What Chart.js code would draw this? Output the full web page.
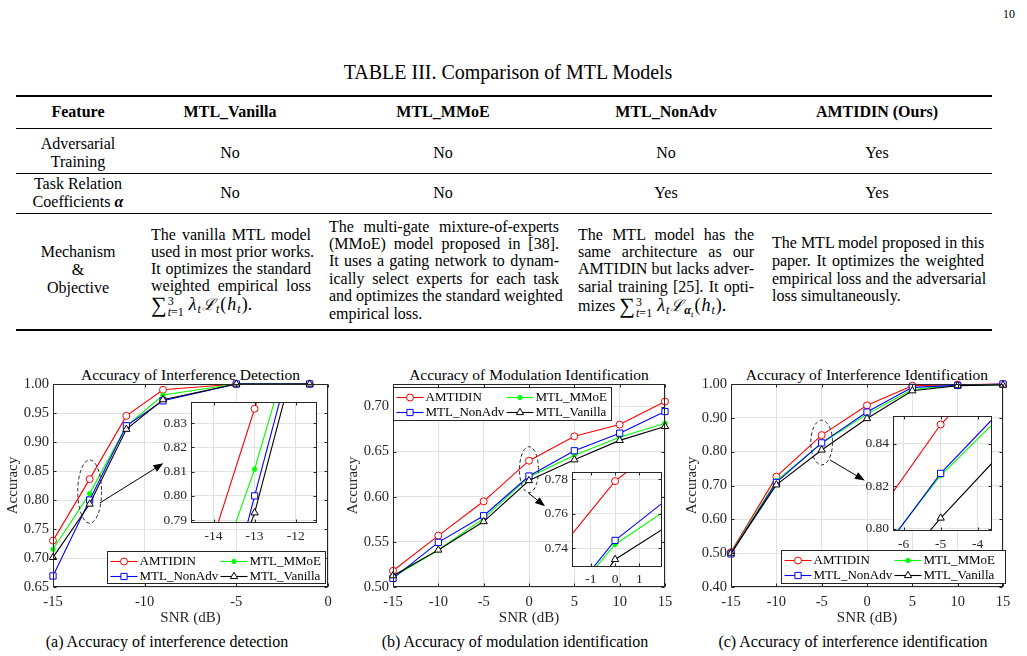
<!DOCTYPE html>
<html><head><meta charset="utf-8">
<script src="https://cdn.jsdelivr.net/npm/chart.js@4.4.1/dist/chart.umd.min.js"></script>
<style>
html,body{margin:0;padding:0;background:#fff}
body{width:1027px;height:656px;overflow:hidden;position:relative;font-family:"Liberation Serif","Times New Roman",serif;color:#000}
.c{position:absolute;transform:translate(-50%,-50%);white-space:nowrap;line-height:1.1}
.j,.l{position:absolute;height:18px;line-height:18px;white-space:nowrap;font-size:16px}
.j{text-align:justify;text-align-last:justify}
.rule{position:absolute;left:16px;width:976px;background:#000}
.sum{font-size:22px;vertical-align:-2px}
.lim{display:inline-block;vertical-align:-6px;font-size:12px;line-height:11px;margin-left:1px;margin-right:5px}
.lim span{display:block}
.m{font-size:18px;font-style:italic;margin-right:1px}
.cal{font-family:"DejaVu Serif","Liberation Serif",serif;font-size:16px;font-style:italic;margin-left:1px;margin-right:1px}
.p{font-size:18px;margin:0 1px}
sub{font-size:12px;vertical-align:-3px;line-height:0}
.cv{position:absolute;display:block}
.h{font-weight:bold;font-size:16px}
.t{font-size:16px}
</style></head><body>

<div class="c" style="left:1009px;top:15px;font-size:12px">10</div>
<div class="c" style="left:508px;top:72px;font-size:20px">TABLE III. Comparison of MTL Models</div>

<div class="rule" style="top:95px;height:1.6px"></div>
<div class="rule" style="top:128px;height:1px"></div>
<div class="rule" style="top:173px;height:1px"></div>
<div class="rule" style="top:213px;height:1px"></div>
<div class="rule" style="top:329px;height:1.6px"></div>

<div class="c h" style="left:78px;top:112px">Feature</div>
<div class="c h" style="left:230px;top:112px">MTL_Vanilla</div>
<div class="c h" style="left:443px;top:112px">MTL_MMoE</div>
<div class="c h" style="left:666px;top:112px">MTL_NonAdv</div>
<div class="c h" style="left:877px;top:112px">AMTIDIN (Ours)</div>

<div class="c t" style="left:78px;top:144px">Adversarial</div>
<div class="c t" style="left:78px;top:162px">Training</div>
<div class="c t" style="left:230px;top:153px">No</div>
<div class="c t" style="left:443px;top:153px">No</div>
<div class="c t" style="left:666px;top:153px">No</div>
<div class="c t" style="left:877px;top:153px">Yes</div>

<div class="c t" style="left:78px;top:184px">Task Relation</div>
<div class="c t" style="left:78px;top:202px">Coefficients <b><i>α</i></b></div>
<div class="c t" style="left:230px;top:193px">No</div>
<div class="c t" style="left:443px;top:193px">No</div>
<div class="c t" style="left:666px;top:193px">Yes</div>
<div class="c t" style="left:877px;top:193px">Yes</div>

<div class="c t" style="left:78px;top:252px">Mechanism</div>
<div class="c t" style="left:78px;top:270px">&amp;</div>
<div class="c t" style="left:78px;top:288px">Objective</div>

<div class="j" style="left:151px;width:160px;top:226px">The vanilla MTL model</div>
<div class="j" style="left:151px;width:160px;top:243px">used in most prior works.</div>
<div class="j" style="left:151px;width:160px;top:260px">It optimizes the standard</div>
<div class="j" style="left:151px;width:160px;top:277px">weighted empirical loss</div>
<div class="l" style="left:151px;top:295px"><span class="sum">∑</span><span class="lim"><span>3</span><span><i>t</i>=1</span></span><span class="m">λ</span><sub><i>t</i></sub><span class="cal">ℒ</span><sub><i>t</i></sub><span class="p">(</span><span class="m">h</span><sub><i>t</i></sub><span class="p">).</span></div>

<div class="j" style="left:329px;width:230px;top:218px">The multi-gate mixture-of-experts</div>
<div class="j" style="left:329px;width:230px;top:235px">(MMoE) model proposed in [38].</div>
<div class="j" style="left:329px;width:230px;top:252px">It uses a gating network to dynam-</div>
<div class="j" style="left:329px;width:230px;top:270px">ically select experts for each task</div>
<div class="j" style="left:329px;width:230px;top:287px">and optimizes the standard weighted</div>
<div class="l" style="left:329px;top:305px">empirical loss.</div>

<div class="j" style="left:578px;width:176px;top:226px">The MTL model has the</div>
<div class="j" style="left:578px;width:176px;top:243px">same architecture as our</div>
<div class="j" style="left:578px;width:176px;top:260px">AMTIDIN but lacks adver-</div>
<div class="j" style="left:578px;width:176px;top:278px">sarial training [25]. It opti-</div>
<div class="l" style="left:578px;top:296px">mizes <span class="sum">∑</span><span class="lim"><span>3</span><span><i>t</i>=1</span></span><span class="m">λ</span><sub><i>t</i></sub><span class="cal">ℒ</span><sub><b><i>α</i></b><sub style="font-size:9px"><i>t</i></sub></sub><span class="p">(</span><span class="m">h</span><sub><i>t</i></sub><span class="p">).</span></div>

<div class="j" style="left:772px;width:212px;top:234px">The MTL model proposed in this</div>
<div class="j" style="left:772px;width:212px;top:252px">paper. It optimizes the weighted</div>
<div class="j" style="left:772px;width:212px;top:270px">empirical loss and the adversarial</div>
<div class="l" style="left:772px;top:287px">loss simultaneously.</div>

<div class="c" style="left:190.5px;top:375px;font-size:15.5px">Accuracy of Interference Detection</div>
<div class="c" style="left:529px;top:375px;font-size:15.5px">Accuracy of Modulation Identification</div>
<div class="c" style="left:867px;top:375px;font-size:15.5px">Accuracy of Interference Identification</div>

<div class="c" style="left:167px;top:642px;font-size:16px">(a) Accuracy of interference detection</div>
<div class="c" style="left:515px;top:642px;font-size:16px">(b) Accuracy of modulation identification</div>
<div class="c" style="left:853px;top:642px;font-size:16px">(c) Accuracy of interference identification</div>

<script>
// ================= DATA =================
const seriesNames = ['AMTIDIN', 'MTL_MMoE', 'MTL_NonAdv', 'MTL_Vanilla'];

// (a) interference detection
const snrA = [-15, -13, -11, -9, -5, -1];
const detAMTIDIN = [0.730, 0.836, 0.945, 0.990, 1.000, 1.000];
const detMMoE    = [0.715, 0.811, 0.927, 0.981, 1.000, 1.000];
const detNonAdv  = [0.669, 0.800, 0.928, 0.971, 1.000, 1.000];
const detVanilla = [0.701, 0.793, 0.922, 0.973, 1.000, 1.000];

// (b) modulation identification
const snrB = [-15, -10, -5, 0, 5, 10, 15];
const modAMTIDIN = [0.518, 0.557, 0.595, 0.640, 0.667, 0.680, 0.7055];
const modMMoE    = [0.511, 0.541, 0.576, 0.622, 0.646, 0.666, 0.6815];
const modNonAdv  = [0.5095, 0.5495, 0.579, 0.623, 0.651, 0.6705, 0.6945];
const modVanilla = [0.5125, 0.541, 0.5725, 0.618, 0.641, 0.6625, 0.678];

// (b) zoomed inset (values as drawn in the inset)
const snrInsetB = [-5, 0, 5];
const modInsetAMTIDIN = [0.6925, 0.779, 0.833];
const modInsetMMoE    = [0.6586, 0.7421, 0.7896];
const modInsetNonAdv  = [0.657, 0.7445, 0.800];
const modInsetVanilla = [0.638, 0.7334, 0.778];

// (c) interference identification
const snrC = [-15, -10, -5, 0, 5, 10, 15];
const idAMTIDIN = [0.503, 0.726, 0.849, 0.937, 0.995, 0.998, 1.000];
const idMMoE    = [0.500, 0.714, 0.825, 0.911, 0.984, 0.996, 0.998];
const idNonAdv  = [0.498, 0.709, 0.826, 0.917, 0.990, 0.996, 1.000];
const idVanilla = [0.500, 0.702, 0.805, 0.898, 0.980, 0.995, 0.997];

// tick values
const xTicksA = [-15, -10, -5, 0];
const yTicksA = [0.65, 0.70, 0.75, 0.80, 0.85, 0.90, 0.95, 1.00];
const xTicksB = [-15, -10, -5, 0, 5, 10, 15];
const yTicksB = [0.50, 0.55, 0.60, 0.65, 0.70];
const xTicksC = [-15, -10, -5, 0, 5, 10, 15];
const yTicksC = [0.40, 0.50, 0.60, 0.70, 0.80, 0.90, 1.00];
const xTicksInsetA = [-14, -13, -12];
const yTicksInsetA = [0.79, 0.80, 0.81, 0.82, 0.83];
const xTicksInsetB = [-1, 0, 1];
const yTicksInsetB = [0.74, 0.76, 0.78];
const xTicksInsetC = [-6, -5, -4];
const yTicksInsetC = [0.80, 0.82, 0.84];

// ================= STYLE =================
const FONT = '"Liberation Serif", "Times New Roman", serif';
const STY = [
  {color:'#ff0000', shape:'circle',   r:3.5, fill:'#ffffff'},
  {color:'#00ff00', shape:'circle',   r:2.2, fill:'#00ff00'},
  {color:'#0000ff', shape:'rect',     r:4.4, fill:'#ffffff'},
  {color:'#000000', shape:'triangle', r:4.2, fill:'#ffffff'}
];

function drawMarker(ctx, st, x, y) {
  ctx.save();
  ctx.lineWidth = 1; ctx.strokeStyle = st.color; ctx.fillStyle = st.fill;
  ctx.beginPath();
  if (st.shape === 'circle') ctx.arc(x, y, st.r, 0, Math.PI * 2);
  else if (st.shape === 'rect') { const s = st.r * Math.SQRT1_2; ctx.rect(x - s, y - s, 2 * s, 2 * s); }
  else {
    let a = 0;
    ctx.moveTo(x + Math.sin(a) * st.r, y - Math.cos(a) * st.r);
    a += 2 * Math.PI / 3; ctx.lineTo(x + Math.sin(a) * st.r, y - Math.cos(a) * st.r);
    a += 2 * Math.PI / 3; ctx.lineTo(x + Math.sin(a) * st.r, y - Math.cos(a) * st.r);
    ctx.closePath();
  }
  ctx.fill(); ctx.stroke(); ctx.restore();
}

function seg(ctx, x0, y0, x1, y1) { ctx.beginPath(); ctx.moveTo(x0, y0); ctx.lineTo(x1, y1); ctx.stroke(); }

const deco = {
  id: 'deco',
  beforeDraw(chart, args, o) {
    if (o.bg) {
      const {ctx, chartArea: c} = chart;
      ctx.save(); ctx.fillStyle = '#ffffff';
      ctx.fillRect(c.left, c.top, c.right - c.left, c.bottom - c.top); ctx.restore();
    }
  },
  afterDraw(chart, args, o) {
    const {ctx, chartArea: c, scales: {x, y}} = chart;
    ctx.save();
    const L = Math.round(c.left) + 0.5, R = Math.round(c.right) - 0.5;
    const T = Math.round(c.top) + 0.5, B = Math.round(c.bottom) - 0.5;
    ctx.strokeStyle = '#262626'; ctx.lineWidth = 1;
    ctx.strokeRect(L, T, R - L, B - T);
    const tl = o.tick || 3;
    x.ticks.forEach(t => { const p = Math.round(x.getPixelForValue(t.value)) + 0.5; seg(ctx, p, B, p, B - tl); seg(ctx, p, T, p, T + tl); });
    y.ticks.forEach(t => { const p = Math.round(y.getPixelForValue(t.value)) + 0.5; seg(ctx, L, p, L + tl, p); seg(ctx, R, p, R - tl, p); });

    if (o.ellipse) {
      const e = o.ellipse;
      const cx = x.getPixelForValue(e.cx), cy = y.getPixelForValue(e.cy);
      const rx = Math.abs(x.getPixelForValue(e.cx + e.rx) - cx), ry = Math.abs(y.getPixelForValue(e.cy + e.ry) - cy);
      ctx.save(); ctx.setLineDash([3.5, 2.5]); ctx.strokeStyle = '#222'; ctx.lineWidth = 1;
      ctx.beginPath(); ctx.ellipse(cx, cy, rx, ry, 0, 0, Math.PI * 2); ctx.stroke(); ctx.restore();
    }
    if (o.arrow) {
      const a = o.arrow;
      const x0 = x.getPixelForValue(a.x0), y0 = y.getPixelForValue(a.y0);
      const x1 = x.getPixelForValue(a.x1), y1 = y.getPixelForValue(a.y1);
      const ang = Math.atan2(y1 - y0, x1 - x0), hl = 10, hw = 3.8;
      const bx = x1 - Math.cos(ang) * hl, by = y1 - Math.sin(ang) * hl;
      ctx.strokeStyle = '#000'; ctx.fillStyle = '#000'; ctx.lineWidth = 1;
      seg(ctx, x0, y0, bx, by);
      ctx.beginPath(); ctx.moveTo(x1, y1);
      ctx.lineTo(bx + Math.sin(ang) * hw, by - Math.cos(ang) * hw);
      ctx.lineTo(bx - Math.sin(ang) * hw, by + Math.cos(ang) * hw);
      ctx.closePath(); ctx.fill();
    }
    if (o.legend) {
      const g = o.legend;
      let bx, by;
      if (g.anchor === 'br') { bx = c.right + g.dx - g.w; by = c.bottom + g.dy - g.h; }
      else { bx = c.left + g.dx; by = c.top + g.dy; }
      bx = Math.round(bx) + 0.5; by = Math.round(by) + 0.5;
      ctx.fillStyle = '#fff'; ctx.fillRect(bx, by, g.w, g.h);
      ctx.strokeStyle = '#262626'; ctx.lineWidth = 1; ctx.strokeRect(bx, by, g.w, g.h);
      ctx.font = '13px ' + FONT; ctx.textBaseline = 'middle'; ctx.textAlign = 'left';
      chart.data.datasets.forEach((ds, i) => {
        const col = i % 2, row = Math.floor(i / 2);
        const sx = bx + 3 + col * 110, sy = Math.round(by + 9 + row * 15.5) + 0.5;
        ctx.strokeStyle = STY[i].color; ctx.lineWidth = 1.1;
        seg(ctx, sx, sy, sx + 27, sy);
        drawMarker(ctx, STY[i], sx + 13.5, sy);
        ctx.fillStyle = '#000'; ctx.fillText(ds.label, sx + 29, sy + 0.5);
      });
    }
    ctx.restore();
  }
};

function build(p) {
  const cv = document.createElement('canvas');
  cv.className = 'cv'; cv.width = p.W; cv.height = p.H;
  cv.style.left = p.L + 'px'; cv.style.top = p.T + 'px';
  cv.style.width = p.W + 'px'; cv.style.height = p.H + 'px';
  document.body.appendChild(cv);
  const datasets = p.series.map((ys, i) => ({
    label: seriesNames[i],
    data: p.xs.map((xv, k) => ({x: xv, y: ys[k]})),
    order: 4 - i,
    borderColor: STY[i].color, backgroundColor: STY[i].fill,
    borderWidth: 1.1, tension: 0, fill: false,
    pointStyle: STY[i].shape, pointRadius: STY[i].r, pointHoverRadius: STY[i].r,
    pointBorderWidth: 1, pointBorderColor: STY[i].color, pointBackgroundColor: STY[i].fill,
    clip: p.inset ? 0 : false
  }));
  const tickFont = {family: FONT, size: p.fs};
  const gridCol = '#e2e2e2';
  return new Chart(cv, {
    type: 'line',
    data: {datasets},
    options: {
      responsive: false, animation: false, devicePixelRatio: 1, events: [],
      layout: {padding: {top: p.padTop, right: p.padRight, left: 0, bottom: 0}},
      plugins: {legend: {display: false}, tooltip: {enabled: false}, deco: p.deco},
      scales: {
        x: {
          type: 'linear', min: p.xr[0], max: p.xr[1],
          afterBuildTicks: s => { s.ticks = p.xt.map(v => ({value: v})); },
          afterFit: s => { s.height = p.xH; s.paddingLeft = 0; s.paddingRight = 0; },
          grid: {color: gridCol, lineWidth: 1, drawTicks: false}, border: {display: false},
          ticks: {autoSkip: false, maxRotation: 0, padding: p.xPad, color: '#262626', font: tickFont, callback: v => String(v)},
          title: p.xTitle ? {display: true, text: p.xTitle, color: '#262626', font: {family: FONT, size: 15}, padding: {top: 0, bottom: 0}} : {display: false}
        },
        y: {
          type: 'linear', min: p.yr[0], max: p.yr[1],
          afterBuildTicks: s => { s.ticks = p.yt.map(v => ({value: v})); },
          afterFit: s => { s.width = p.yW; s.paddingTop = 0; s.paddingBottom = 0; },
          grid: {color: gridCol, lineWidth: 1, drawTicks: false}, border: {display: false},
          ticks: {autoSkip: false, padding: p.yPad, color: '#262626', font: tickFont, callback: v => Number(v).toFixed(2)},
          title: p.yTitle ? {display: true, text: p.yTitle, color: '#262626', font: {family: FONT, size: 15}, padding: {top: p.yTitlePad, bottom: 0}} : {display: false}
        }
      }
    },
    plugins: [deco]
  });
}

// ---------- (a) ----------
build({L: 0, T: 364, W: 336, H: 263, padTop: 20, padRight: 8, yW: 53, xH: 40,
  xs: snrA, series: [detAMTIDIN, detMMoE, detNonAdv, detVanilla],
  xr: [-15, 0], yr: [0.65, 1.00], xt: xTicksA, yt: yTicksA, fs: 14.5, xPad: 6, yPad: 4,
  xTitle: 'SNR (dB)', yTitle: 'Accuracy', yTitlePad: 4.5,
  deco: {ellipse: {cx: -13, cy: 0.8145, rx: 0.65, ry: 0.0545},
         arrow: {x0: -12.44, y0: 0.795, x1: -8.98, y1: 0.8633},
         legend: {anchor: 'br', dx: -3, dy: -4, w: 218, h: 32}}});
build({L: 150, T: 396, W: 175, H: 150, padTop: 6, padRight: 8, yW: 41, xH: 23, inset: true,
  xs: snrA, series: [detAMTIDIN, detMMoE, detNonAdv, detVanilla],
  xr: [-14.55, -11.48], yr: [0.7888, 0.8388], xt: xTicksInsetA, yt: yTicksInsetA, fs: 13.5, xPad: 5, yPad: 4,
  deco: {bg: true}});

// ---------- (b) ----------
build({L: 340, T: 364, W: 335, H: 263, padTop: 20, padRight: 10, yW: 53, xH: 40,
  xs: snrB, series: [modAMTIDIN, modMMoE, modNonAdv, modVanilla],
  xr: [-15, 15], yr: [0.50, 0.725], xt: xTicksB, yt: yTicksB, fs: 14.5, xPad: 6, yPad: 4,
  xTitle: 'SNR (dB)', yTitle: 'Accuracy', yTitlePad: 4.5,
  deco: {ellipse: {cx: 0, cy: 0.630, rx: 1.05, ry: 0.0255},
         arrow: {x0: -0.07, y0: 0.6042, x1: 1.77, y1: 0.5894},
         legend: {anchor: 'tl', dx: 0, dy: 3, w: 218, h: 33}}});
build({L: 535, T: 466, W: 135, H: 120, padTop: 6, padRight: 8, yW: 37, xH: 19, inset: true,
  xs: snrInsetB, series: [modInsetAMTIDIN, modInsetMMoE, modInsetNonAdv, modInsetVanilla],
  xr: [-1.78, 1.94], yr: [0.729, 0.7843], xt: xTicksInsetB, yt: yTicksInsetB, fs: 13.5, xPad: 4, yPad: 4,
  deco: {bg: true}});

// ---------- (c) ----------
build({L: 680, T: 364, W: 347, H: 263, padTop: 20, padRight: 24, yW: 51, xH: 40,
  xs: snrC, series: [idAMTIDIN, idMMoE, idNonAdv, idVanilla],
  xr: [-15, 15], yr: [0.40, 1.00], xt: xTicksC, yt: yTicksC, fs: 14.5, xPad: 6, yPad: 4,
  xTitle: 'SNR (dB)', yTitle: 'Accuracy', yTitlePad: 3,
  deco: {ellipse: {cx: -5, cy: 0.827, rx: 1.2, ry: 0.066},
         arrow: {x0: -4.09, y0: 0.7757, x1: -0.24, y1: 0.7146},
         legend: {anchor: 'br', dx: 2, dy: -4, w: 224, h: 33}}});
build({L: 855, T: 410, W: 145, H: 140, padTop: 6, padRight: 8, yW: 38, xH: 19, inset: true,
  xs: snrC, series: [idAMTIDIN, idMMoE, idNonAdv, idVanilla],
  xr: [-6.29, -3.61], yr: [0.7989, 0.853], xt: xTicksInsetC, yt: yTicksInsetC, fs: 13.5, xPad: 5, yPad: 4,
  deco: {bg: true}});
</script>
</body></html>
